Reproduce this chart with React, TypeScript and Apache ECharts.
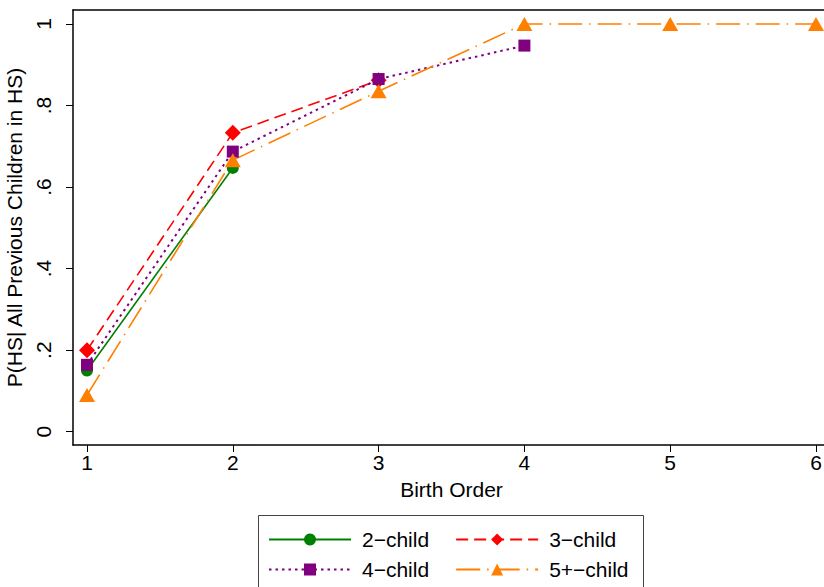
import React, { useEffect, useRef } from "react";
import * as echarts from "echarts";

const birthOrder = [1, 2, 3, 4, 5, 6];
const twoChild = [0.15, 0.647];
const threeChild = [0.2, 0.733, 0.862];
const fourChild = [0.164, 0.687, 0.865, 0.947];
const fivePlusChild = [0.09, 0.666, 0.835, 1.0, 1.0, 1.0];
const seriesNames = ["2\u2212child", "3\u2212child", "4\u2212child", "5+\u2212child"];
const yTickValues = [0, 0.2, 0.4, 0.6, 0.8, 1];
const yTickLabels = ["0", ".2", ".4", ".6", ".8", "1"];

const FONT = "Liberation Sans";

function pairs(vals: number[]) {
  return vals.map((v, i) => [birthOrder[i], v]);
}

export default function App() {
  const ref = useRef<HTMLDivElement>(null);
  useEffect(() => {
    if (!ref.current) return;
    const chart = echarts.init(ref.current, null, { renderer: "svg" });
    const legendCommon = {
      itemWidth: 82,
      itemHeight: 15,
      itemGap: 26,
      textStyle: { fontFamily: FONT, fontSize: 21, color: "#000", padding: [0, 0, 0, 6] },
      padding: 0,
    };
    const xMin = 0.904;
    const xMax = 6.096;
    chart.setOption({
      animation: false,
      backgroundColor: "#fff",
      grid: { left: 73, right: -6, top: 10, bottom: 142, containLabel: false, outerBoundsMode: "none" },
      xAxis: [
        {
          type: "value",
          min: xMin,
          max: xMax,
          position: "bottom",
          name: "Birth Order",
          nameLocation: "middle",
          nameGap: 34,
          nameTextStyle: { fontFamily: FONT, fontSize: 21, color: "#000" },
          axisLine: { show: true, onZero: false, lineStyle: { color: "#000", width: 1.5 } },
          axisTick: { show: true, length: 7, customValues: birthOrder, lineStyle: { color: "#000", width: 1 } },
          axisLabel: {
            fontFamily: FONT,
            fontSize: 21,
            color: "#000",
            margin: 7,
            customValues: birthOrder,
            formatter: (v: number) => String(v),
          },
          splitLine: { show: false },
        },
        {
          type: "value",
          min: xMin,
          max: xMax,
          position: "top",
          axisLine: { show: true, onZero: false, lineStyle: { color: "#000", width: 1.5 } },
          axisTick: { show: false },
          axisLabel: { show: false },
          splitLine: { show: false },
        },
      ],
      yAxis: {
        type: "value",
        min: -0.0326,
        max: 1.0343,
        name: "P(HS| All Previous Children in HS)",
        nameLocation: "middle",
        nameRotate: 90,
        nameGap: 45,
        nameTextStyle: { fontFamily: FONT, fontSize: 21, color: "#000" },
        axisLine: { show: true, onZero: false, lineStyle: { color: "#000", width: 1.5 } },
        axisTick: { show: true, length: 7, customValues: yTickValues, lineStyle: { color: "#000", width: 1 } },
        axisLabel: {
          fontFamily: FONT,
          fontSize: 21,
          color: "#000",
          rotate: 90,
          margin: 19,
          customValues: yTickValues,
          formatter: (v: number) => {
            const idx = yTickValues.findIndex((t) => Math.abs(t - v) < 1e-6);
            return idx >= 0 ? yTickLabels[idx] : "";
          },
        },
        splitLine: { show: false },
      },
      legend: [
        { ...legendCommon, left: 268, top: 529, data: [seriesNames[0], seriesNames[1]] },
        { ...legendCommon, left: 268, top: 559, data: [seriesNames[2], seriesNames[3]] },
      ],
      graphic: [
        {
          type: "rect",
          shape: { x: 258.5, y: 515.5, width: 385, height: 80 },
          style: { fill: "none", stroke: "#444", lineWidth: 1 },
          silent: true,
        },
      ],
      series: [
        {
          name: seriesNames[0],
          type: "line",
          data: pairs(twoChild),
          symbol: "circle",
          symbolSize: 12,
          color: "#008000",
          lineStyle: { color: "#008000", width: 1.6, type: "solid" },
          itemStyle: { color: "#008000" },
        },
        {
          name: seriesNames[1],
          type: "line",
          data: pairs(threeChild),
          symbol: "diamond",
          symbolSize: 16,
          color: "#ff0000",
          lineStyle: { color: "#ff0000", width: 1.6, type: [12, 6] },
          itemStyle: { color: "#ff0000" },
        },
        {
          name: seriesNames[2],
          type: "line",
          data: pairs(fourChild),
          symbol: "rect",
          symbolSize: 12,
          color: "#800080",
          lineStyle: { color: "#800080", width: 2, type: [2.5, 4] },
          itemStyle: { color: "#800080" },
        },
        {
          name: seriesNames[3],
          type: "line",
          data: pairs(fivePlusChild),
          symbol: "triangle",
          symbolSize: [16, 14],
          color: "#ff7f00",
          lineStyle: { color: "#ff7f00", width: 1.6, type: [24, 7, 1.5, 7] },
          itemStyle: { color: "#ff7f00" },
        },
      ],
    });
    return () => chart.dispose();
  }, []);
  return (
    <div
      ref={ref}
      style={{ position: "absolute", left: 0, top: 0, width: 824, height: 587, background: "#fff" }}
    />
  );
}
